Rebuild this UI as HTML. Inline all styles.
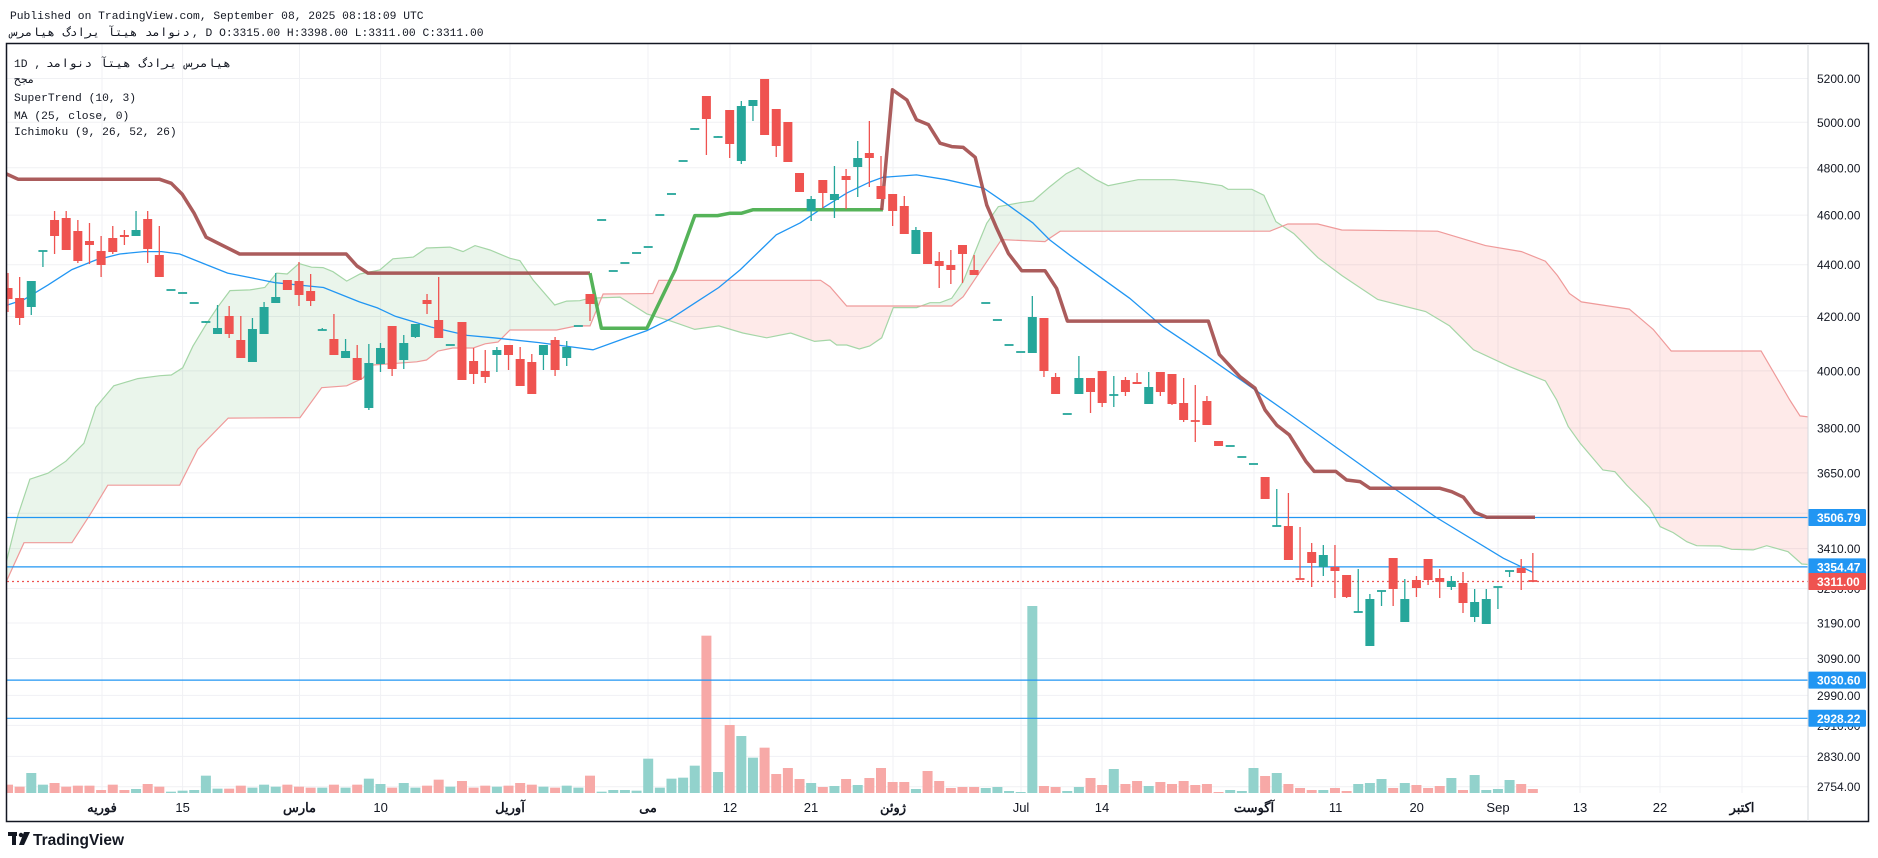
<!DOCTYPE html>
<html><head><meta charset="utf-8"><style>
html,body{margin:0;padding:0;background:#fff;}
svg{display:block;}
text{font-family:"Liberation Sans","Noto Sans CJK SC",sans-serif;}
.mono{font-family:"Liberation Mono","DejaVu Sans Mono",monospace;}
</style></head><body>
<svg id="c" width="1878" height="858" viewBox="0 0 1878 858" xmlns="http://www.w3.org/2000/svg">
<rect width="1878" height="858" fill="#fff"/>
<g id="grid"></g>
<g clip-path="url(#pc)"><g id="cloud"></g><g id="vol"></g><g id="lines"></g><g id="cand"></g></g>
<defs><clipPath id="pc"><rect x="7" y="44" width="1801" height="749"/></clipPath></defs>
<g id="axis"></g>
<text class="mono" x="10" y="19" font-size="11.3" fill="#131722">Published on TradingView.com, September 08, 2025 08:18:09 UTC</text>
<text class="mono" x="10" y="36" font-size="11.3" fill="#131722" textLength="180" lengthAdjust="spacingAndGlyphs">دنوامد هیتآ یرادگ هیامرس</text>
<text class="mono" x="192" y="36" font-size="11.3" fill="#131722">, D O:3315.00 H:3398.00 L:3311.00 C:3311.00</text>
<rect x="6.5" y="43.5" width="1862" height="778" fill="none" stroke="#131722" stroke-width="1.5"/>
<line x1="1808" y1="44" x2="1808" y2="821" stroke="#d6d8de" stroke-width="1"/>
<text class="mono" x="14" y="67" font-size="11.3" fill="#131722">1D ,</text>
<text class="mono" x="46" y="67" font-size="11.3" fill="#131722" textLength="185" lengthAdjust="spacingAndGlyphs">هیامرس یرادگ هیتآ دنوامد</text>
<text class="mono" x="14" y="83" font-size="11.3" fill="#131722">مجح</text>
<text class="mono" x="14" y="101" font-size="11.3" fill="#131722">SuperTrend (10, 3)</text>
<text class="mono" x="14" y="119" font-size="11.3" fill="#131722">MA (25, close, 0)</text>
<text class="mono" x="14" y="135" font-size="11.3" fill="#131722">Ichimoku (9, 26, 52, 26)</text>
<g transform="translate(8,832)">
<rect x="0" y="0" width="9" height="4" fill="#131722"/><rect x="4" y="0" width="4" height="13" fill="#131722"/>
<circle cx="13" cy="3" r="2.2" fill="#131722"/><path d="M16 0 L22 0 L16 13 L11 13 Z" fill="#131722"/>
</g>
<text x="33" y="845" font-size="15.5" font-weight="bold" fill="#131722">TradingView</text>
</svg>
<script>
const NS="http://www.w3.org/2000/svg";
function el(p,t,a,txt){const e=document.createElementNS(NS,t);for(const k in a)e.setAttribute(k,a[k]);if(txt!==undefined)e.textContent=txt;document.getElementById(p).appendChild(e);return e;}
const S=1.198;
const X=i=>8+11.64*i;
const prices=[[5200,78.5],[5000,122.3],[4800,167.8],[4600,215.1],[4400,264.7],[4200,316.5],[4000,370.9],[3800,428],[3650,472.9],[3520,513.3],[3410,548.6],[3290,588.5],[3190,623],[3090,658.5],[2990,695.4],[2910,725.4],[2830,756.4],[2754,786.7]];
prices.forEach(p=>{el('grid','line',{x1:7,x2:1808,y1:p[1],y2:p[1],stroke:'#f0f1f4','stroke-width':1});
 el('axis','text',{x:1817,y:p[1]+4.5,'font-size':12,fill:'#131722'},p[0].toFixed(2));});
const tl=[['فوریه',102],['15',182.6],['مارس',299.5],['10',380.6],['آوريل',510],['می',648],['12',730],['21',811],['ژوئن',893],['Jul',1021],['14',1102],['آگوست',1254],['11',1335.6],['20',1416.7],['Sep',1498],['13',1580],['22',1660],['اکتبر',1742]];
tl.forEach(t=>{el('grid','line',{x1:t[1],x2:t[1],y1:44,y2:793,stroke:'#f0f1f4','stroke-width':1});
 el('axis','text',{x:t[1],y:812,'font-size':13,fill:'#131722','text-anchor':'middle','font-weight':/[0-9A-Za-z]/.test(t[0])?'normal':'bold'},t[0]);});
const A=[[5,470],[15,430],[25,400],[40,395],[55,385],[70,370],[80,340],[95,322],[115,316],[133.6,313.6],[143,313],[152.5,307],[161,289],[172.5,270],[182,256],[192,242.6],[208.7,242],[221,240],[231,228],[239.7,228.7],[249.6,220],[260,223],[269.6,223.4],[278,226.8],[289.4,234.6],[300.5,228.7],[317,225.4],[328,216],[345,214.6],[356,207],[375.6,206.3],[386.5,210],[396.5,205],[409,208.7],[425.7,215.6],[434,217.6],[445,233.7],[463,254.6],[473,251.3],[484,251],[492.5,248.9],[517.5,248],[540,262],[560,268],[580,275],[600,272],[620,278],[640,282],[660,278],[680,285],[692.8,283.8],[698.4,288],[706.8,288],[717.3,291.3],[726,288.8],[736,282],[745.7,256.8],[765.2,256.8],[776.3,252.7],[784.6,252.7],[794.4,249],[804,235],[818,200],[823.6,186.4],[833.3,172.5],[851.4,169.2],[862.5,167.8],[876.5,155.8],[890,145],[900,140],[915,150],[925,155],[950,150],[980,150],[1000,152],[1020,155],[1025,158],[1045,158],[1055,163],[1065,185],[1080,195],[1100,215],[1120,230],[1150,250],[1190,260],[1210,272],[1230,292],[1260,306],[1290,318],[1299.4,333.9],[1309,356],[1319,370],[1338,392.3],[1348,393.7],[1357.8,404.8],[1377,424],[1385.7,439.6],[1396.7,444.6],[1408,452.2],[1416.3,455.5],[1435.7,455.8],[1445.5,458.5],[1463.4,459],[1474.7,455.5],[1492.5,460.5],[1504,470.8],[1512,471.4]];
const B=[[5,486],[20,453],[60,453],[75,430],[90,405],[150,405],[165,375],[190.5,349],[250.4,348.6],[268.5,323.6],[289.4,322],[303,315.6],[311.5,304.7],[347.8,302],[356,300.5],[365.6,293],[378,290.5],[395,290.5],[405,287],[415.7,285.5],[425.7,275.5],[464.7,275.5],[481.4,272],[492.5,272],[503.4,245.4],[545,245],[550,234],[685,234],[692.8,239.3],[706.8,255.4],[794.4,255.4],[804,247.7],[836,200],[872.3,201.7],[876.5,198.7],[885,193],[1060,193],[1075,187],[1100,187],[1120,192],[1200,193],[1240,205],[1270,210],[1290,218],[1300,230],[1310,245],[1320,252],[1340,255],[1360,258],[1380,275],[1395,293],[1470,293],[1494,333.9],[1502.5,347.2],[1512,348.3]];
function interp(P,x){for(let k=0;k<P.length-1;k++){if(x>=P[k][0]&&x<=P[k+1][0]){const t=(x-P[k][0])/(P[k+1][0]-P[k][0]||1);return P[k][1]+t*(P[k+1][1]-P[k][1]);}}return x<P[0][0]?P[0][1]:P[P.length-1][1];}
let runs=[],cur=null;
for(let x=5;x<=1512;x+=0.5){const a=interp(A,x),b=interp(B,x);const s=a<=b?1:-1;
 if(!cur||cur.s!==s){if(cur)cur.pts.push([x,a,b]);cur={s:s,pts:[]};runs.push(cur);} cur.pts.push([x,a,b]);}
runs.forEach(r=>{const top=r.pts.map(p=>(p[0]*S).toFixed(1)+','+(p[1]*S).toFixed(1));const bot=r.pts.slice().reverse().map(p=>(p[0]*S).toFixed(1)+','+(p[2]*S).toFixed(1));
 el('cloud','polygon',{points:top.concat(bot).join(' '),fill:r.s>0?'rgba(67,160,71,0.11)':'rgba(244,67,54,0.11)'});});
const pl=(P)=>P.map(p=>(p[0]*S).toFixed(1)+','+(p[1]*S).toFixed(1)).join(' ');
el('cloud','polyline',{points:pl(A),fill:'none',stroke:'#a5d6a7','stroke-width':1.2});
el('cloud','polyline',{points:pl(B),fill:'none',stroke:'#ef9a9a','stroke-width':1.2});
const vz=[494,500,459,494,489,500,497,497,510,494,510,507,492,500,515,512,510,467,506,506,497,503,494,500,494,500,503,503,494,503,494,476,492,503,489,503,497,479,500,483,503,497,500,497,489,494,500,503,497,503,467,515,510,510,512,416,503,476,473,437,47,456,315,348,413,383];
const vr=[774,768,779,783,787,786,779,785,778,768,782,782,789,771,781,788,787,787,788,787,791,792,606,786,787,791,787,778,785,769,784,781,786,782,784,781,785,784,792,790,791,768,776,773,784,788,790,790,788,791,784,783,779,788,783,785,788,786,778,790,775,790,789,780,784,789];
const vt=vz.map(z=>620+z/3).concat(vr);
const vc=["rrggrrrrrr","rgrrgggggr","rgggrrrgrg","rggrggrrgr","rrgrrrgrgg","rggggggggg","rgrggr","rrrgrgrgrr","rrgrrrrrgg","gggrrggrrg","rrgrrrrrrg","ggrgrrrgrr","gggrgrrrgr","ggggrr"].join('');
vt.forEach((t,i)=>{el('vol','rect',{x:X(i)-5,y:t,width:10,height:Math.max(793-t,1),fill:vc[i]==='g'?'#92d2cc':'#f7a9a7'});});
[[517.5,'#2196f3'],[566.9,'#2196f3'],[680.1,'#2196f3'],[718.3,'#2196f3']].forEach(h=>el('lines','line',{x1:7,x2:1808,y1:h[0],y2:h[0],stroke:h[1],'stroke-width':1.2}));
el('lines','line',{x1:7,x2:1808,y1:581.5,y2:581.5,stroke:'#ef5350','stroke-width':1.2,'stroke-dasharray':'2,3'});
const MA=[[5,255],[20,250],[40,238],[60,225],[80,217],[100,212],[120,210],[135,210],[150,212],[170,220],[190,228],[210,232],[230,236],[250,238],[270,240],[300,252],[315,257],[330,264],[360,273],[390,280],[412,282],[450,286],[480,290],[495,292],[520,283],[540,276],[560,266],[580,253],[600,240],[618,225],[648,196],[668,186],[684.5,175],[707,161],[726,152],[737,148],[765,146],[790,150],[821,157],[840,170],[862,186],[876,200],[893,213],[943,249],[971,273],[1007,297],[1077,346],[1154,401],[1199,432],[1255,466],[1280,478]];
el('lines','polyline',{points:pl(MA),fill:'none',stroke:'#2196f3','stroke-width':1.3});
const ST1=[[5,145],[15,149.6],[133,149.6],[143,153],[152,162],[162,178],[172,198],[182,203],[200,212],[289,212],[298,222],[307,228],[492.5,228]];
const STG=[[492.5,228],[502,274],[540,274],[563.5,225.4],[580,180],[599,180],[609.4,178],[619,178],[628.7,175],[737,175]];
const ST2=[[736,175.3],[745,75],[757,83.5],[765,100],[775,104],[784.6,119.5],[794.4,122.4],[804,123],[814,131.3],[823.6,171],[832,190.6],[841.7,211.5],[852.8,226],[872.3,226],[882,240.7],[891,268],[1008.6,268],[1017.8,295.8],[1035,314.4],[1047.6,324],[1056,342.2],[1065.7,354.8],[1076.2,363],[1090,385],[1097,393.5],[1115,393.5],[1124,400.7],[1135.2,402],[1143.6,407.6],[1202,407.6],[1211.8,410.4],[1221.5,415],[1231.2,427.7],[1241,431.8],[1281.3,431.8]];
el('lines','polyline',{points:pl(ST1),fill:'none',stroke:'#a24a4a','stroke-opacity':0.9,'stroke-width':3.5,'stroke-linejoin':'round'});
el('lines','polyline',{points:pl(STG),fill:'none',stroke:'#4caf50','stroke-opacity':0.95,'stroke-width':3.5,'stroke-linejoin':'round'});
el('lines','polyline',{points:pl(ST2),fill:'none',stroke:'#a24a4a','stroke-opacity':0.9,'stroke-width':3.5,'stroke-linejoin':'round'});
const C=[[288,299,273,312],[298,318,277,325],[307,281,281,315],[251,251,251,267],[220,236,211,254],[218,250,211,250],[231,261,220,263],[241,245,223,264],[251,265,236,277],[238,252,226,254],[235,237,230,245],[236,230,211,236],[219,249,211,263],[255,277,226,277],[290,290,290,290],[293,293,293,293],[303,303,303,303],[322,322,321,323],[334,328,305,334],[316,334,306,338],[340,358,316,358],[362,329,318,362],[334,307,302,334],[303,297,273,303],[280,290,280,290],[281,295,262,306],[291,301,274,306],[330,330,328,330],[339,355,314,355],[358,351,339,358],[358,380,345,380],[408,363,344,410],[364,348,343,372],[326,369,326,376],[360,343,335,369],[337,324,324,338],[300,304,294,314],[320,338,277,338],[345,345,345,345],[322,380,322,380],[361,374,348,384],[371,377,350,383],[355,350,347,372],[345,355,345,370],[359,386,347,386],[362,394,354,394],[355,345,345,370],[340,370,337,376],[358,347,341,366],[326,326,326,326],[294,304,294,321],[220,220,220,220],[271,271,271,271],[263,263,263,263],[253,253,253,253],[247,247,247,247],[215,215,215,215],[194,194,194,194],[161,161,161,161],[129,129,129,129],[96,119,96,155],[137,137,136,137],[110,144,110,158],[161,106,101,164],[106,100,100,121],[79,135,79,135],[109,146,109,157],[122,162,122,162],[173,192,173,192],[211,199,196,221],[180,193,180,208],[200,194,166,218],[176,180,169,209],[167,158,141,197],[153,158,121,187],[186,199,156,199],[194,211,194,226],[206,234,196,234],[254,230,227,254],[232,264,232,264],[261,266,252,288],[265,270,250,284],[245,254,245,283],[270,275,255,275],[303,303,303,303],[320,320,320,320],[345,345,345,345],[352,352,352,352],[353,317,296,353],[318,371,318,377],[377,394,373,394],[414,414,414,414],[394,378,356,394],[378,392,378,413],[371,403,371,407],[395,395,376,407],[380,392,377,396],[382,384,373,384],[404,387,372,404],[372,392,372,396],[374,404,374,405],[403,420,378,422],[421,421,385,442],[401,425,396,425],[441,446,441,446],[446,446,446,446],[457,457,457,457],[464,464,464,464],[477,499,477,499],[526,526,489,526],[526,560,493,560],[579,579,527,579],[552,563,543,587],[567,555,545,576],[567,571,545,598],[575,597,575,598],[612,612,569,612],[646,599,594,646],[591,591,591,606],[558,589,558,606],[622,599,579,622],[580,588,576,597],[559,580,559,585],[578,582,569,598],[587,581,576,590],[583,603,572,613],[617,602,589,622],[624,599,589,624],[587,587,587,609],[571,571,571,577],[568,573,559,590],[581,581,553,581]];
const redDoji=[102,111,131];
C.forEach((c,i)=>{const [o,cl,h,l]=c;let red;if(o===cl)red=redDoji.includes(i);else red=cl>o;
 const col=red?'#ef5350':'#26a69a';const x=X(i);
 el('cand','line',{x1:x,x2:x,y1:Math.min(h,o,cl),y2:Math.max(l,o,cl),stroke:col,'stroke-width':1.3});
 const t=Math.min(o,cl),bh=Math.abs(o-cl);
 el('cand','rect',{x:x-4.5,y:bh<2?t-0.9:t,width:9,height:Math.max(bh,1.8),fill:col});});
[[517.5,'3506.79','#2196f3'],[566.9,'3354.47','#2196f3'],[581.5,'3311.00','#ef5350'],[680.1,'3030.60','#2196f3'],[718.3,'2928.22','#2196f3']].forEach(p=>{
 el('axis','rect',{x:1808,y:p[0]-8.5,width:58,height:17,fill:p[2],rx:1.5});
 el('axis','text',{x:1817,y:p[0]+4.5,'font-size':12,fill:'#fff','font-weight':'bold'},p[1]);});
</script>
</body></html>
